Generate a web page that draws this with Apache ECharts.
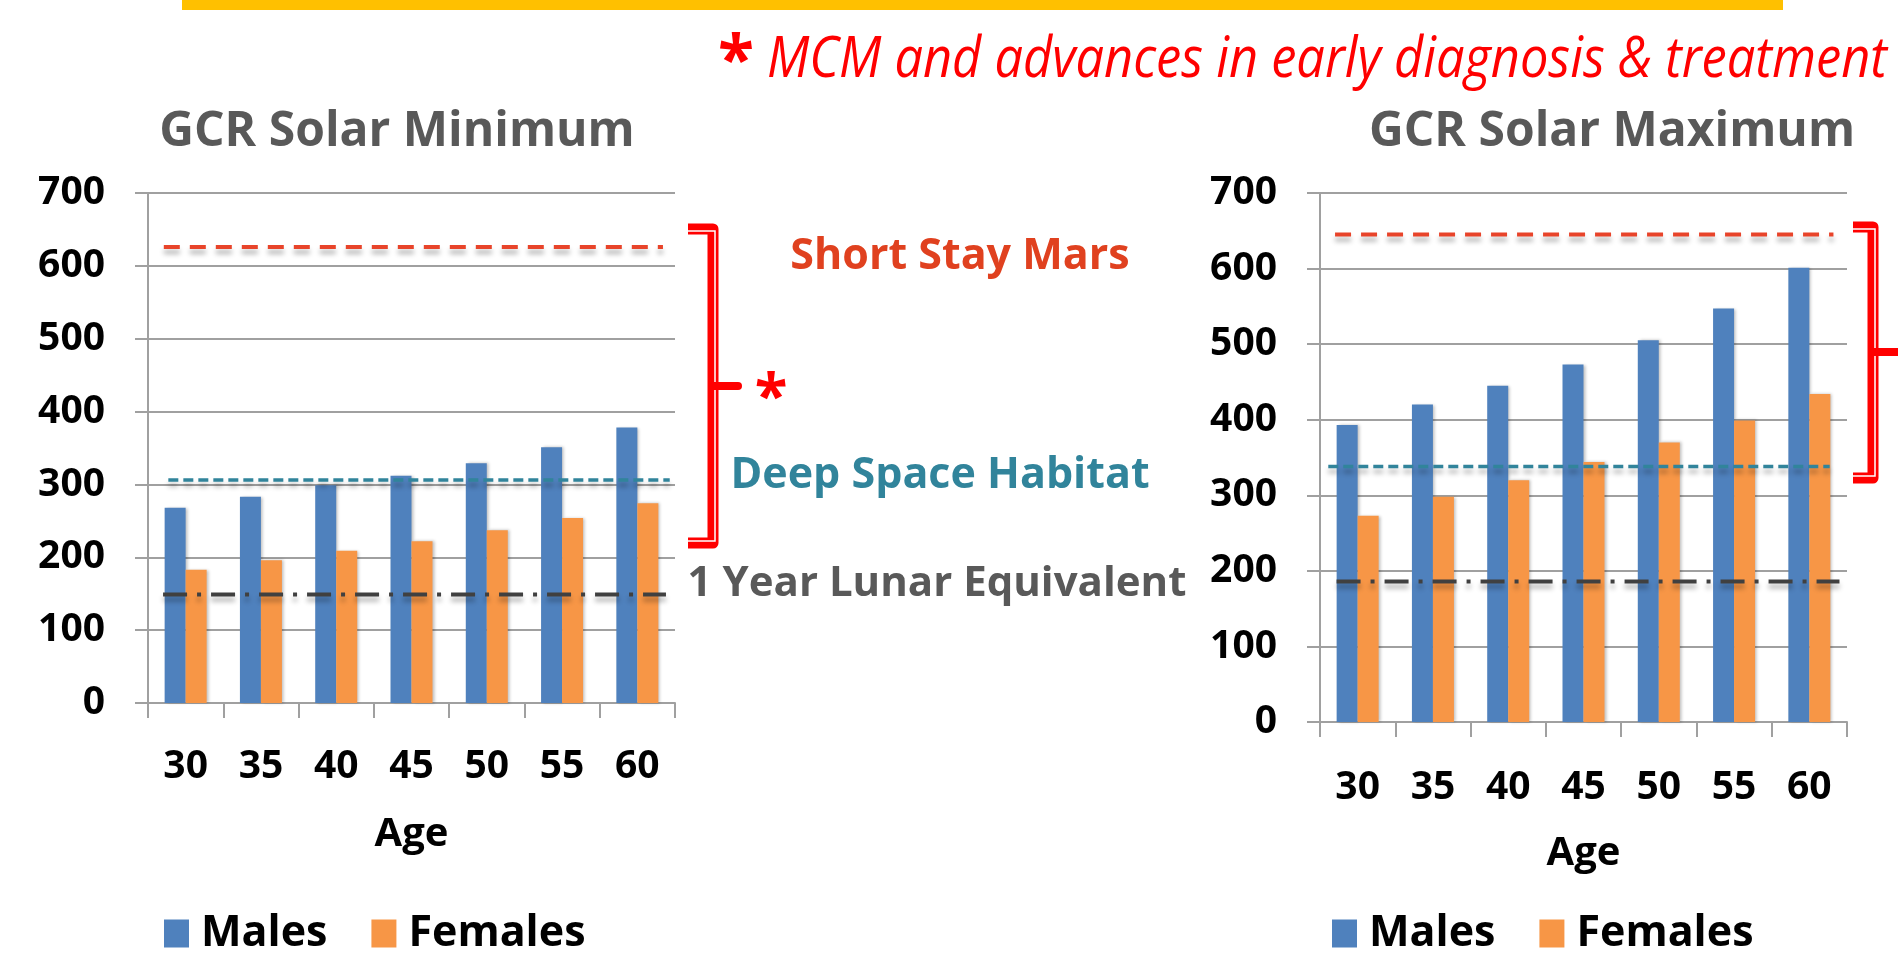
<!DOCTYPE html>
<html><head><meta charset="utf-8">
<script src="https://cdn.jsdelivr.net/npm/echarts@6/dist/echarts.min.js"></script>
<style>html,body{margin:0;padding:0;background:#fff;}#c{width:1898px;height:954px;}</style>
</head><body><div id="c"></div>
<script>
// ---- data ----
const ages = ['30', '35', '40', '45', '50', '55', '60'];
const minMales = [268, 283, 299, 312, 329, 351, 378];
const minFemales = [183, 196, 209, 222, 237, 254, 274];
const maxMales = [393, 420, 445, 473, 505, 547, 601];
const maxFemales = [273, 298, 320, 344, 370, 399, 434];
const limitNames = ['Short Stay Mars', 'Deep Space Habitat', '1 Year Lunar Equivalent'];
const minLimits = [626, 306, 149];
const maxLimits = [645, 338, 186];
const seriesNames = ['Males', 'Females'];
const chartTitles = ['GCR Solar Minimum', 'GCR Solar Maximum'];
const axisName = 'Age';
const topNote = 'MCM and advances in early diagnosis & treatment';

// ---- styling ----
const FONT = '"Open Sans", "Noto Sans", sans-serif';
const GRID_C = '#A0A0A0';
const MALE_C = '#4F81BD', FEMALE_C = '#F79646';
const limitColors = ['#E8442A', '#31849B', '#404040'];
const limitDash = [[16, 10], [10, 5], [24, 10, 4, 10]];
const limitWidth = [4, 3.5, 4];
const spansLeft = [[0.21, 6.84], [0.27, 6.93], [0.2, 6.88]];
const spansRight = [[0.2, 6.82], [0.11, 6.77], [0.22, 6.9]];

const grids = [
  {left: 148, top: 193, width: 527, height: 510},
  {left: 1320, top: 193, width: 527, height: 529}
];

function catAxis(gi, margin, gap) {
  return {
    type: 'category', gridIndex: gi, data: ages,
    axisLine: {show: true, lineStyle: {color: GRID_C, width: 2}},
    axisTick: {show: true, length: 15, lineStyle: {color: GRID_C, width: 2}},
    axisLabel: {margin: margin, fontSize: 39, fontWeight: 'bold', fontFamily: FONT, color: '#000'},
    name: axisName, nameLocation: 'middle', nameGap: gap,
    nameTextStyle: {fontSize: 40, fontWeight: 'bold', fontFamily: FONT, color: '#000'}
  };
}
function hiddenAxis(gi) {
  return {type: 'value', gridIndex: gi, min: 0, max: 7, show: false};
}
function valAxis(gi) {
  return {
    type: 'value', gridIndex: gi, min: 0, max: 700, interval: 100,
    axisLine: {show: true, lineStyle: {color: GRID_C, width: 2}},
    axisTick: {show: true, length: 13, lineStyle: {color: GRID_C, width: 2}},
    splitLine: {show: true, lineStyle: {color: GRID_C, width: 2}},
    axisLabel: {margin: 43, fontSize: 39, fontWeight: 'bold', fontFamily: FONT, color: '#000'}
  };
}
function barSeries(name, data, color, xi, yi) {
  return {
    type: 'bar', name: name, data: data, xAxisIndex: xi, yAxisIndex: yi,
    barWidth: 21, barGap: '0%',
    itemStyle: {color: color, shadowColor: 'rgba(0,0,0,0.25)', shadowBlur: 3, shadowOffsetX: 2},
    emphasis: {disabled: true}, silent: true
  };
}
function limitSeries(i, value, span, xi, yi) {
  return {
    type: 'line', name: limitNames[i], xAxisIndex: xi, yAxisIndex: yi,
    data: [[span[0], value], [span[1], value]],
    symbol: 'none', silent: true, z: 5,
    lineStyle: {color: limitColors[i], width: limitWidth[i], type: limitDash[i],
      shadowColor: 'rgba(0,0,0,0.3)', shadowBlur: 5, shadowOffsetY: 5}
  };
}

const series = [
  barSeries(seriesNames[0], minMales, MALE_C, 0, 0),
  barSeries(seriesNames[1], minFemales, FEMALE_C, 0, 0),
  barSeries(seriesNames[0], maxMales, MALE_C, 2, 1),
  barSeries(seriesNames[1], maxFemales, FEMALE_C, 2, 1)
];
for (let i = 0; i < 3; i++) {
  series.push(limitSeries(i, minLimits[i], spansLeft[i], 1, 0));
  series.push(limitSeries(i, maxLimits[i], spansRight[i], 3, 1));
}

// fit top note width
const ctx = document.createElement('canvas').getContext('2d');
ctx.font = 'italic 56px ' + FONT;
const noteScale = 1120 / ctx.measureText(topNote).width;

function txt(x, y, text, size, color, weight, align) {
  return {
    type: 'text', x: x, y: y, silent: true,
    style: {text: text, fontSize: size, fontWeight: weight || 'bold', fontFamily: FONT, fill: color,
      align: align || 'center', verticalAlign: 'middle', textAlign: align || 'center', textVerticalAlign: 'middle'}
  };
}
function bracket(xh, xv, y0, y1, ym, xn) {
  return [
    {type: 'polyline', silent: true, shape: {points: [[xh, y0], [xv, y0], [xv, y1], [xh, y1]]},
      style: {stroke: '#FF0000', lineWidth: 11, fill: null, lineJoin: 'round'}},
    {type: 'polyline', silent: true, shape: {points: [[xh, y0 + 2], [xv + 2, y0 + 2], [xv + 2, y1 - 2], [xh, y1 - 2]]},
      style: {stroke: '#FFFFFF', lineWidth: 1.5, fill: null}},
    {type: 'line', silent: true, shape: {x1: xv, y1: ym, x2: xn, y2: ym},
      style: {stroke: '#FF0000', lineWidth: 8, lineCap: 'round'}}
  ];
}

const graphic = [
  {type: 'rect', shape: {x: 182, y: 0, width: 1601, height: 10}, style: {fill: '#FFC000'}, silent: true},
  txt(736, 64, '*', 66, '#FF0000', 'bold'),
  {type: 'text', x: 767, y: 61, scaleX: noteScale, silent: true,
    style: {text: topNote, fontSize: 56, fontStyle: 'italic', fontWeight: 'normal', fontFamily: FONT, fill: '#FF0000',
      align: 'left', verticalAlign: 'middle', textAlign: 'left', textVerticalAlign: 'middle'}},
  txt(397, 132, chartTitles[0], 48, '#595959'),
  txt(1612, 132, chartTitles[1], 48, '#595959'),
  txt(960, 257, limitNames[0], 43, '#E0411F'),
  txt(940, 476, limitNames[1], 43, '#31849B'),
  txt(937, 584, limitNames[2], 42, '#595959'),
  txt(771, 400, '*', 60, '#FF0000', 'bold')
].concat(bracket(688, 713, 229, 543, 386, 738), bracket(1853, 1873, 227, 478, 352, 1905));

const legendBase = {data: seriesNames, top: 907, icon: 'rect', itemWidth: 25, itemHeight: 28, itemGap: 44,
  selectedMode: false, textStyle: {fontSize: 43, fontWeight: 'bold', fontFamily: FONT, color: '#000', padding: [0, 0, 0, 7]}};

const chart = echarts.init(document.getElementById('c'), null, {renderer: 'canvas'});
chart.setOption({
  animation: false,
  backgroundColor: '#ffffff',
  grid: grids,
  xAxis: [catAxis(0, 44, 112), hiddenAxis(0), catAxis(1, 46, 112), hiddenAxis(1)],
  yAxis: [valAxis(0), valAxis(1)],
  legend: [
    Object.assign({}, legendBase, {left: 159}),
    Object.assign({}, legendBase, {left: 1327})
  ],
  series: series,
  graphic: graphic
});
</script></body></html>
